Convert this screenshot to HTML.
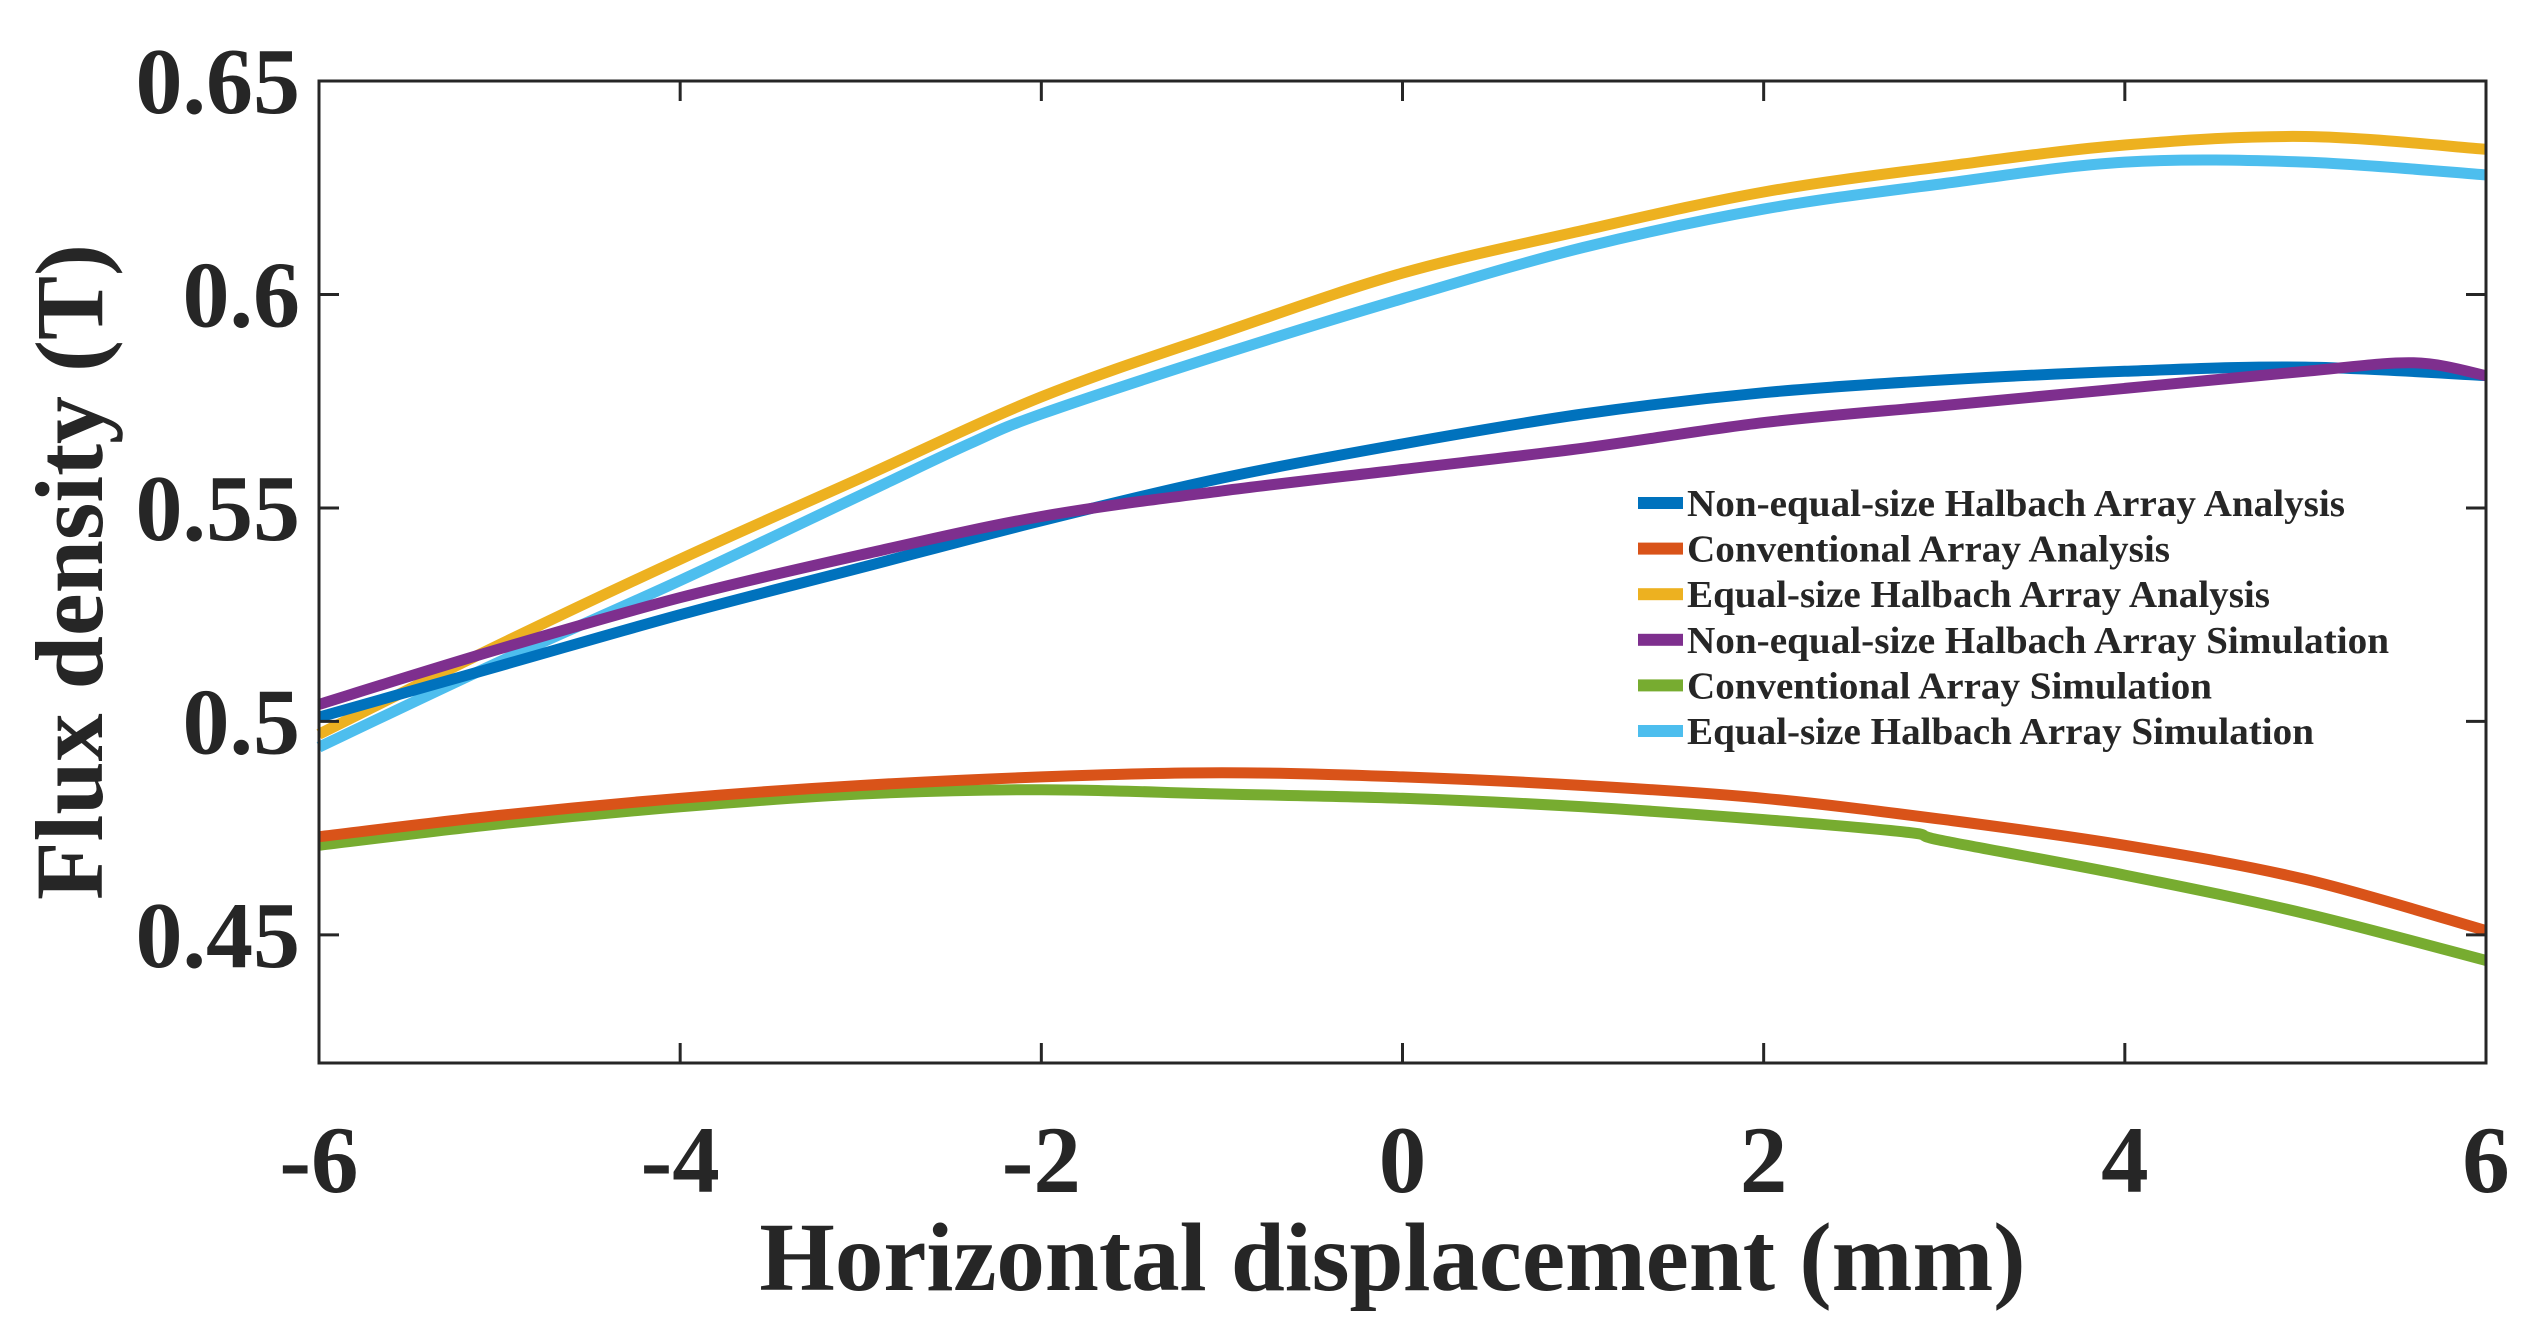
<!DOCTYPE html>
<html><head><meta charset="utf-8"><style>html,body{margin:0;padding:0;background:#fff}svg{display:block}text{font-family:"Liberation Serif",serif;font-weight:bold;fill:#262626}</style></head>
<body>
<svg id="chart" width="2536" height="1327" viewBox="0 0 2536 1327" xmlns="http://www.w3.org/2000/svg">
<rect x="0" y="0" width="2536" height="1327" fill="#fff"/>
<g id="plot"></g>
</svg>
<script>
const xTicks=[-6,-4,-2,0,2,4,6];
const yTicks=[0.45,0.5,0.55,0.6,0.65];
const yTickLabels=["0.45","0.5","0.55","0.6","0.65"];
const seriesNames=["Non-equal-size Halbach Array Analysis","Conventional Array Analysis","Equal-size Halbach Array Analysis","Non-equal-size Halbach Array Simulation","Conventional Array Simulation","Equal-size Halbach Array Simulation"];
const seriesColors=["#0072BD","#D95319","#EDB120","#7E2F8E","#77AC30","#4DBEEE"];
const xNE=[-6,-5,-4,-3,-2,-1,0,1,2,3,4,5,6];
const yNEAnalysis=[0.501,0.513,0.525,0.536,0.547,0.557,0.565,0.572,0.577,0.580,0.582,0.583,0.581];
const xConv=[-6,-5,-4,-3,-2,-1,0,1,2,3,4,5,6];
const yConvAnalysis=[0.473,0.478,0.482,0.485,0.487,0.488,0.487,0.485,0.482,0.477,0.471,0.463,0.451];
const xEq=[-6,-5,-4,-3,-2,-1,0,1,2,3,4,5,6];
const yEqAnalysis=[0.497,0.518,0.538,0.557,0.576,0.591,0.605,0.615,0.624,0.630,0.635,0.637,0.634];
const xNESim=[-6,-5,-4,-3,-2,-1,0,1,2,3,4,5,5.6,6];
const yNESim=[0.504,0.517,0.529,0.539,0.548,0.554,0.559,0.564,0.570,0.574,0.578,0.582,0.584,0.581];
const xConvSim=[-6,-5,-4,-3,-2,-1,0,1,2,2.8,3,4,5,6];
const yConvSim=[0.471,0.476,0.480,0.483,0.484,0.483,0.482,0.480,0.477,0.474,0.472,0.464,0.455,0.444];
const xEqSim=[-6,-5,-4,-3,-2.4,-2,-1,0,1,2,3,4,5,6];
const yEqSim=[0.494,0.514,0.533,0.553,0.565,0.572,0.586,0.599,0.611,0.620,0.626,0.631,0.631,0.628];

const L=319,R=2486,T=81,B=1063,XMIN=-6,XMAX=6,YMIN=0.42,YMAX=0.65;
const sx=v=>L+(v-XMIN)/(XMAX-XMIN)*(R-L);
const sy=v=>B-(v-YMIN)/(YMAX-YMIN)*(B-T);
const NS="http://www.w3.org/2000/svg";
const g=document.getElementById('plot');
function mk(tag,attrs){const e=document.createElementNS(NS,tag);for(const k in attrs)e.setAttribute(k,attrs[k]);return e;}
function smooth(pts){
  let d='M'+pts[0][0].toFixed(1)+','+pts[0][1].toFixed(1);
  for(let i=0;i<pts.length-1;i++){
    const p0=pts[i-1]||pts[i],p1=pts[i],p2=pts[i+1],p3=pts[i+2]||p2;
    const c1=[p1[0]+(p2[0]-p0[0])/6,p1[1]+(p2[1]-p0[1])/6];
    const c2=[p2[0]-(p3[0]-p1[0])/6,p2[1]-(p3[1]-p1[1])/6];
    d+=' C'+c1.map(v=>v.toFixed(1)).join(',')+' '+c2.map(v=>v.toFixed(1)).join(',')+' '+p2.map(v=>v.toFixed(1)).join(',');
  }
  return d;
}
const order=[[xNE,yNEAnalysis],[xConv,yConvAnalysis],[xEq,yEqAnalysis],[xNESim,yNESim],[xConvSim,yConvSim],[xEqSim,yEqSim]];
const names=["line-nonequal-analysis","line-conventional-analysis","line-equal-analysis","line-nonequal-simulation","line-conventional-simulation","line-equal-simulation"];
[4,1,5,2,0,3].forEach(i=>{
  const [xs,ys]=order[i];
  const d=smooth(xs.map((x,j)=>[sx(x),sy(ys[j])]));
  const p=mk('path',{d:d,fill:'none',stroke:seriesColors[i],'stroke-width':11,'stroke-linejoin':'round'});
  
  
  g.appendChild(p);
});
const box=mk('rect',{x:L,y:T,width:R-L,height:B-T,fill:'none',stroke:'#262626','stroke-width':3});


g.appendChild(box);
xTicks.forEach(v=>{
  const x=sx(v);
  const t1=mk('line',{x1:x,y1:B,x2:x,y2:B-20,stroke:'#262626','stroke-width':3});
  
  
  g.appendChild(t1);
  const t2=mk('line',{x1:x,y1:T,x2:x,y2:T+20,stroke:'#262626','stroke-width':3});
  
  
  g.appendChild(t2);
  const lb=mk('text',{x:x,y:1192,'text-anchor':'middle','font-size':95});
  lb.textContent=String(v);
  
  
  g.appendChild(lb);
});
yTicks.forEach((v,i)=>{
  const y=sy(v);
  const t1=mk('line',{x1:L,y1:y,x2:L+20,y2:y,stroke:'#262626','stroke-width':3});
  
  
  g.appendChild(t1);
  const t2=mk('line',{x1:R,y1:y,x2:R-20,y2:y,stroke:'#262626','stroke-width':3});
  
  
  g.appendChild(t2);
  const lb=mk('text',{x:300,y:y+32,'text-anchor':'end','font-size':94});
  lb.textContent=yTickLabels[i];
  
  
  g.appendChild(lb);
});
const xt=mk('text',{x:(L+R)/2-10,y:1290,'text-anchor':'middle','font-size':97});
xt.textContent='Horizontal displacement (mm)';


g.appendChild(xt);
const yt=mk('text',{x:0,y:0,'text-anchor':'middle','font-size':96,transform:'translate(102,'+((T+B)/2)+') rotate(-90)'});
yt.textContent='Flux density (T)';


g.appendChild(yt);
const lens=[658,483,583,702,525,627];
seriesNames.forEach((n,i)=>{
  const y=503+i*45.6;
  const s=mk('rect',{x:1638,y:y-6,width:45,height:12,fill:seriesColors[i]});
  
  
  g.appendChild(s);
  const t=mk('text',{x:1687,y:y+13,'font-size':38,textLength:lens[i],lengthAdjust:'spacingAndGlyphs',fill:'#000'});
  t.textContent=n;
  
  
  g.appendChild(t);
});
</script>
</body></html>
